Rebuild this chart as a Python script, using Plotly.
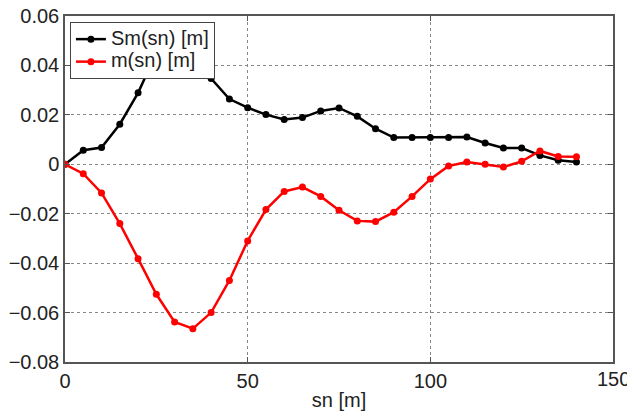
import plotly.graph_objects as go

sn = [0, 5, 10, 15, 20, 25, 30, 35, 40, 45, 50, 55, 60, 65, 70, 75, 80, 85, 90, 95,
      100, 105, 110, 115, 120, 125, 130, 135, 140]
Sm = [0.0, 0.0057, 0.0068, 0.0162, 0.0289, 0.045, 0.050, 0.046, 0.0347, 0.0264,
      0.0229, 0.0201, 0.0181, 0.0189, 0.0216, 0.0228, 0.0194, 0.0144, 0.0108, 0.0108,
      0.0108, 0.0108, 0.0110, 0.0086, 0.0066, 0.0066, 0.0036, 0.0016, 0.0009]
m = [0.0, -0.0038, -0.0116, -0.024, -0.0382, -0.0526, -0.0638, -0.0665, -0.060, -0.047,
     -0.031, -0.0183, -0.011, -0.0092, -0.013, -0.0186, -0.0229, -0.0232, -0.0194, -0.013,
     -0.006, -0.0007, 0.0009, 0.0, -0.0011, 0.0012, 0.0054, 0.0032, 0.003]
series_names = ["Sm(sn) [m]", "m(sn) [m]"]
x_edge_tick = 150  # last x tick; drawn as annotation since it runs past the page edge

FONT = "Liberation Sans, Arial, sans-serif"
TXT = "#222"

fig = go.Figure()
fig.add_trace(go.Scatter(x=sn, y=Sm, mode="lines+markers",
                         name='<span style="font-size:20px">%s</span>' % series_names[0],
                         line=dict(color="black", width=2.5),
                         marker=dict(color="black", size=7)))
fig.add_trace(go.Scatter(x=sn, y=m, mode="lines+markers",
                         name='<span style="font-size:20px">%s</span>' % series_names[1],
                         line=dict(color="#ff0000", width=2.5),
                         marker=dict(color="#ff0000", size=7)))

axis_common = dict(showline=True, linecolor="#555", linewidth=1.5, mirror="ticks",
                   ticks="inside", ticklen=5, tickcolor="#555", automargin=False,
                   showgrid=True, gridcolor="#888", griddash="dot", gridwidth=1,
                   zeroline=False, tickfont=dict(size=20, color=TXT, family=FONT))

fig.update_xaxes(range=[0, 150], dtick=50, tick0=0,
                 title=dict(text="sn [m]", font=dict(size=20, color=TXT, family=FONT), standoff=2),
                 **axis_common)
fig.update_yaxes(range=[-0.08, 0.06], dtick=0.02, tick0=0, **axis_common)

fig.add_annotation(x=x_edge_tick, xref="x", y=0, yref="paper", yanchor="top",
                   text=str(x_edge_tick), showarrow=False, yshift=-4,
                   font=dict(size=20, color=TXT, family=FONT))

fig.update_layout(
    width=627, height=414,
    margin=dict(l=65, r=14, t=16, b=52),
    plot_bgcolor="white", paper_bgcolor="white",
    font=dict(family=FONT, size=20, color=TXT),
    legend=dict(x=0.009, y=0.983, xanchor="left", yanchor="top",
                bgcolor="white", bordercolor="#444", borderwidth=1,
                font=dict(size=15, color=TXT, family=FONT),
                itemwidth=30),
    showlegend=True,
)

# remove the default page margin so the figure fills the window exactly
fig.write_html("out.html", config={"displayModeBar": False},
               post_script="document.body.style.margin='0';document.body.style.overflow='hidden';")
